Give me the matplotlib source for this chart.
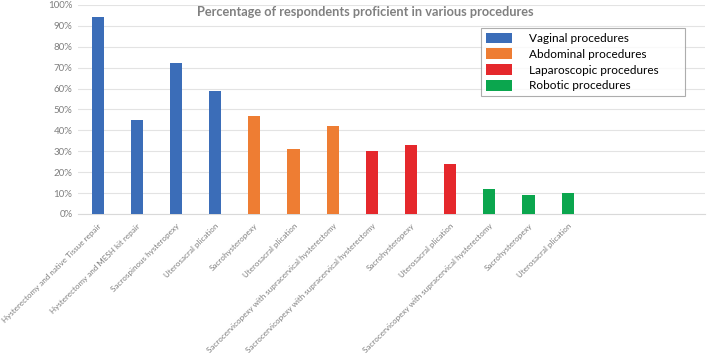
import matplotlib.pyplot as plt
from matplotlib.patches import Patch

plt.rcParams['font.family'] = ['Lato', 'DejaVu Sans']

labels = [
    "Hysterectomy and native Tissue repair",
    "Hysterectomy and MESH kit repair",
    "Sacrospinous hysteropexy",
    "Uterosacral plication",
    "Sacrohysteropexy",
    "Uterosacral plication",
    "Sacrocervicopexy with supracervical hysterectomy",
    "Sacrocervicopexy with supracervical hysterectomy",
    "Sacrohysteropexy",
    "Uterosacral plication",
    "Sacrocervicopexy with supracervical hysterectomy",
    "Sacrohysteropexy",
    "Uterosacral plication",
]
values = [94, 45, 72, 59, 47, 31, 42, 30, 33, 24, 12, 9, 10]
groups = ["Vaginal"] * 4 + ["Abdominal"] * 3 + ["Laparoscopic"] * 3 + ["Robotic"] * 3
group_names = ["Vaginal procedures", "Abdominal procedures",
               "Laparoscopic procedures", "Robotic procedures"]
group_colors = {"Vaginal": "#3B6DB8", "Abdominal": "#EE7D33",
                "Laparoscopic": "#E5282C", "Robotic": "#0BA64E"}

fig = plt.figure(figsize=(7.09, 3.53), dpi=100)
ax = fig.add_axes([0.110, 0.394, 0.884, 0.592])

x = list(range(len(values)))
ax.bar(x, values, width=0.31, color=[group_colors[g] for g in groups], zorder=3)

ax.set_xlim(-0.5, 15.5)
ax.set_ylim(0, 100)
ax.set_yticks(range(0, 101, 10))
ax.set_yticklabels([f"{v}%" for v in range(0, 101, 10)], fontsize=7, color="#7f7f7f")
ax.set_xticks(x)
ax.set_xticklabels(labels, rotation=45, ha="right", rotation_mode="anchor",
                   fontsize=5.8, color="#7f7f7f")
ax.tick_params(length=0, pad=4)
ax.tick_params(axis="x", pad=6)
ax.grid(axis="y", color="#e3e3e3", linewidth=0.8, zorder=0)
for s in ["top", "right", "left"]:
    ax.spines[s].set_visible(False)
ax.spines["bottom"].set_color("#d9d9d9")

fig.text(0.515, 0.966, "Percentage of respondents proficient in various procedures",
         ha="center", va="center", fontsize=9.2, fontweight="bold", color="#808080")

handles = [Patch(facecolor=c, edgecolor="none") for c in group_colors.values()]
leg = ax.legend(handles, group_names, loc="upper left",
                bbox_to_anchor=(0.643, 0.55, 0.325, 0.34), mode="expand",
                fontsize=8.5, frameon=True, fancybox=False, edgecolor="#999999",
                handlelength=2.2, handleheight=1.0, handletextpad=1.5,
                labelspacing=0.38, borderpad=0.4, borderaxespad=0)
leg.get_frame().set_linewidth(0.8)

fig.savefig("out.png", dpi=100)
